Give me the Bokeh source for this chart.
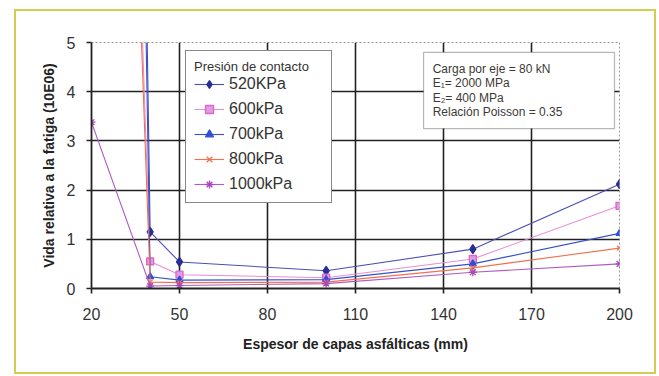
from bokeh.plotting import figure
from bokeh.models import FixedTicker, Legend, LegendItem, BoxAnnotation, Label
from bokeh.embed import file_html
from bokeh.resources import INLINE

# ---- data ----
thickness = [20, 40, 50, 100, 150, 200]
series_names = ["520KPa", "600kPa", "700kPa", "800kPa", "1000kPa"]
life_520 = [78.0, 1.15, 0.54, 0.36, 0.80, 2.12]
life_600 = [35.0, 0.55, 0.28, 0.22, 0.60, 1.68]
life_700 = [70.0, 0.24, 0.17, 0.18, 0.50, 1.12]
life_800 = [33.0, 0.13, 0.12, 0.13, 0.42, 0.82]
life_1000 = [3.38, 0.05, 0.06, 0.10, 0.33, 0.50]
x_ticks = [20, 50, 80, 110, 140, 170, 200]
y_ticks = [0, 1, 2, 3, 4, 5]
note_lines = ["Carga por eje = 80 kN", "E\u2081= 2000 MPa", "E\u2082= 400 MPa", "Relación Poisson = 0.35"]

FONT = "Liberation Sans"

p = figure(width=638, height=361, output_backend="svg", toolbar_location=None,
           x_range=(20, 200), y_range=(0, 5),
           min_border_left=75, min_border_right=35, min_border_top=31, min_border_bottom=84)
p.margin = (11, 0, 0, 16)
p.styles = {"outline": "2px solid #d4cd50", "outline-offset": "0px"}
p.background_fill_color = "white"
p.border_fill_color = "white"
p.outline_line_color = "#9a9a9a"
p.outline_line_dash = "2 2"
p.outline_line_width = 1

# grid
p.xgrid.ticker = FixedTicker(ticks=[50, 80, 110, 140, 170])
p.ygrid.ticker = FixedTicker(ticks=[1, 2, 3, 4])
for g in (p.xgrid, p.ygrid):
    g.grid_line_color = "#222222"
    g.grid_line_width = 1.6

# axes
p.xaxis.ticker = FixedTicker(ticks=x_ticks)
p.yaxis.ticker = FixedTicker(ticks=y_ticks)
for ax in (p.xaxis, p.yaxis):
    ax.axis_line_color = "#222222"
    ax.axis_line_width = 1.8
    ax.major_tick_line_color = "#222222"
    ax.major_tick_line_width = 1.6
    ax.major_tick_out = 5
    ax.major_tick_in = 0
    ax.minor_tick_line_color = None
    ax.major_label_text_font = FONT
    ax.major_label_text_font_size = "16px"
    ax.major_label_text_color = "#333333"
    ax.axis_label_text_font = FONT
    ax.axis_label_text_font_size = "14px"
    ax.axis_label_text_font_style = "bold"
    ax.axis_label_text_color = "#222222"
p.xaxis.axis_label = "Espesor de capas asfálticas (mm)"
p.yaxis.axis_label = "Vida relativa a la fatiga (10E06)"
p.xaxis.major_label_standoff = 14
p.yaxis.major_label_standoff = 11
p.xaxis.axis_label_standoff = 13
p.yaxis.axis_label_standoff = 7

# series: values, line colour, marker, fill, marker line, size
styles = [
    (life_520, "#4b4fb4", "diamond", "#262f92", "#262f92", 9),
    (life_600, "#e88ed8", "square", "#e59ae0", "#d468cc", 7),
    (life_700, "#3552cc", "triangle", "#2f4fd8", "#2f4fd8", 7),
    (life_800, "#f2714c", "x", "#f2714c", "#f2714c", 7),
    (life_1000, "#b05cc2", "asterisk", "#a848bd", "#a848bd", 8),
]
items = []
for name, (vals, lc, mk, fc, mc, sz) in zip(series_names, styles):
    r1 = p.line(thickness, vals, line_color=lc, line_width=1.1)
    r2 = p.scatter(thickness, vals, marker=mk, size=sz, fill_color=fc, line_color=mc, line_width=1.3)
    items.append(LegendItem(label=name, renderers=[r1, r2]))

legend = Legend(items=items, location=(94, 85))
legend.title = "Presión de contacto"
legend.title_text_font = FONT
legend.title_text_font_size = "13px"
legend.title_text_font_style = "normal"
legend.title_text_color = "#333333"
legend.title_standoff = 0
legend.label_text_font = FONT
legend.label_text_font_size = "16px"
legend.label_text_color = "#333333"
legend.glyph_width = 30
legend.glyph_height = 20
legend.label_height = 20
legend.label_width = 94
legend.label_standoff = 5
legend.spacing = 5
legend.padding = 8
legend.margin = 0
legend.border_line_color = "#111111"
legend.border_line_width = 1.2
legend.background_fill_color = "white"
legend.background_fill_alpha = 1
p.add_layout(legend)

# note box
box = BoxAnnotation(left=133.2, right=198.3, bottom=3.25, top=4.80,
                    fill_color="white", fill_alpha=1, line_color="#111111", line_width=1.2)
p.add_layout(box)
note_y = [4.47, 4.17, 3.88, 3.58]
for txt, yy in zip(note_lines, note_y):
    p.add_layout(Label(x=136.3, y=yy, text=txt, text_font=FONT, text_font_size="12px",
                       text_color="#3d3a36", text_baseline="middle"))

open("out.html", "w").write(file_html(p, INLINE))
